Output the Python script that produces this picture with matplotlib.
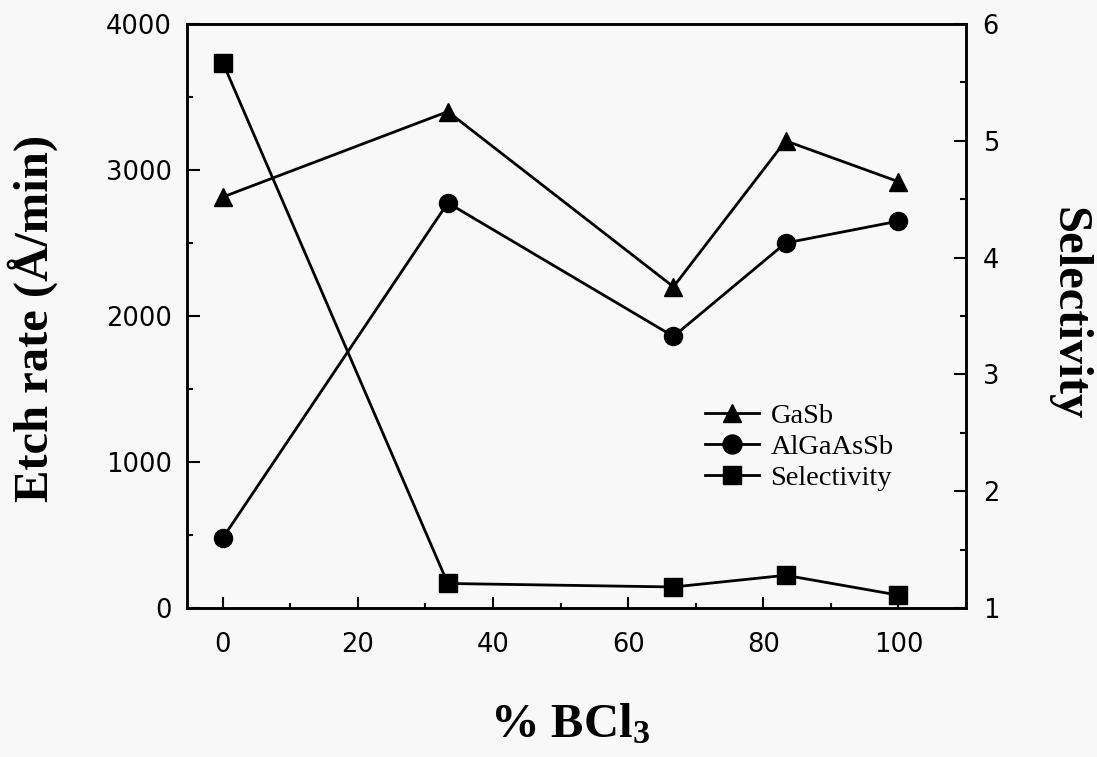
import numpy as np
import matplotlib
matplotlib.use("Agg")
import matplotlib.pyplot as plt
from matplotlib.ticker import MultipleLocator

bcl3_pct = [0, 33.3, 66.7, 83.3, 100]
gasb_rate = [2815, 3400, 2200, 3200, 2920]
algaassb_rate = [480, 2775, 1860, 2500, 2650]
selectivity = [5.67, 1.21, 1.18, 1.28, 1.11]

series_labels = ["GaSb", "AlGaAsSb", "Selectivity"]

plt.rcParams['mathtext.fontset'] = 'custom'
plt.rcParams['mathtext.rm'] = 'Liberation Serif:bold'
plt.rcParams['mathtext.default'] = 'rm'

bg = '#f8f8f8'
fig = plt.figure(figsize=(10.97, 7.57), dpi=100, facecolor=bg)
ax = fig.add_axes([187/1097, 1-608/757, (966-187)/1097, (608-24)/757])
ax.set_facecolor(bg)
ax2 = ax.twinx()

lw = 2.0
ms = 13
l1, = ax.plot(bcl3_pct, gasb_rate, '-^', color='black', lw=lw, ms=ms)
l2, = ax.plot(bcl3_pct, algaassb_rate, '-o', color='black', lw=lw, ms=ms)
l3, = ax2.plot(bcl3_pct, selectivity, '-s', color='black', lw=lw, ms=ms)

ax.set_xlim(-5.3, 110)
ax.set_ylim(0, 4000)
ax2.set_ylim(1, 6)

ax.xaxis.set_major_locator(MultipleLocator(20))
ax.xaxis.set_minor_locator(MultipleLocator(10))
ax.yaxis.set_major_locator(MultipleLocator(1000))
ax.yaxis.set_minor_locator(MultipleLocator(500))
ax2.yaxis.set_major_locator(MultipleLocator(1))
ax2.yaxis.set_minor_locator(MultipleLocator(0.5))

for a in (ax, ax2):
    for s in a.spines.values():
        s.set_linewidth(1.8)
ax.tick_params(axis='x', which='both', direction='in', top=False, pad=17, width=1.5)
ax.tick_params(axis='x', which='major', length=8)
ax.tick_params(axis='x', which='minor', length=3.6)
ax.tick_params(axis='y', which='both', direction='in', right=False, pad=11, width=1.5)
ax.tick_params(axis='y', which='major', length=9)
ax.tick_params(axis='y', which='minor', length=4.5)
ax2.tick_params(axis='y', which='both', direction='in', pad=12, width=1.5)
ax2.tick_params(axis='y', which='major', length=9)
ax2.tick_params(axis='y', which='minor', length=4.5)
for lab in ax.get_xticklabels() + ax.get_yticklabels() + ax2.get_yticklabels():
    lab.set_fontfamily('DejaVu Sans')
    lab.set_fontsize(18.5)

label_font = dict(family='Liberation Serif', weight='bold', size=35)
fig.text(33/1097, 1-318/757, 'Etch rate (Å/min)', rotation=90, ha='center', va='center', **label_font)
fig.text(1068/1097, 1-314/757, 'Selectivity', rotation=270, ha='center', va='center', **label_font)
fig.text(570/1097, 1-737/757, '% BCl$_3$', ha='center', va='baseline', **label_font)

ax.legend([l1, l2, l3], series_labels, loc='upper left',
          bbox_to_anchor=(705/1097, 1-403/757), bbox_transform=fig.transFigure,
          frameon=False, borderpad=0, borderaxespad=0, handlelength=1.9,
          handletextpad=0.4, labelspacing=0.18, markerscale=1.05,
          prop={'family': 'Liberation Serif', 'size': 20.5})

fig.savefig('out.png', dpi=100, facecolor=bg)
